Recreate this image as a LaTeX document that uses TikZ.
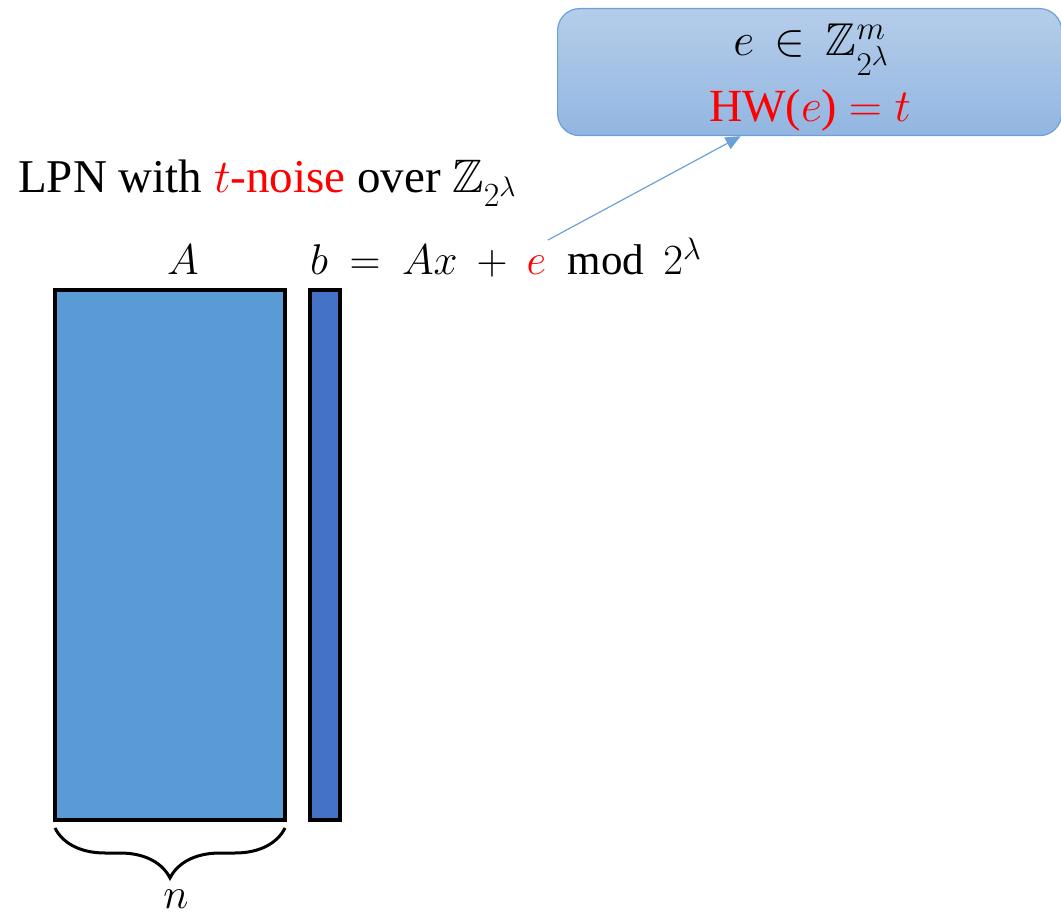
\RequirePackage{fix-cm}
\documentclass[tikz,border=0pt]{standalone}
\usepackage{amssymb}
\usepackage{fontspec}
\setmainfont{Liberation Serif}
\usetikzlibrary{positioning,arrows.meta,decorations.pathreplacing}
\definecolor{boxtop}{RGB}{181,205,234}
\definecolor{boxbot}{RGB}{146,182,225}
\definecolor{boxline}{RGB}{108,160,214}
\definecolor{matfill}{HTML}{5B9BD5}
\definecolor{vecfill}{HTML}{4472C4}
\renewcommand\defaultscriptratio{.72}
\renewcommand\defaultscriptscriptratio{.6}
\newcommand\txtbig{\fontsize{47}{54}\selectfont}
\newcommand\txtmath{\fontsize{43}{52}\selectfont}
\newcommand\txtbox{\fontsize{46}{56}\selectfont}
\tikzset{
  block/.style={draw=black,line width=4pt},
  noisebox/.style={draw=boxline,line width=1.2pt,rounded corners=22pt,top color=boxtop,bottom color=boxbot},
  pointer/.style={draw=boxline,line width=1.2pt,-{Triangle[length=15pt,width=13pt]}},
  label/.style={inner sep=0pt,font=\txtmath}
}
\begin{document}
\begin{tikzpicture}[x=1pt,y=-1pt]
        \useasboundingbox(0,0)rectangle(1061,917);
        \coordinate(A1)at(55,290);
        \coordinate(A2)at(285,820);
        \coordinate(B1)at(310,290);
        \coordinate(B2)at(340,820);
        \draw[block,fill=matfill](A1)rectangle(A2);
        \draw[block,fill=vecfill](B1)rectangle(B2);
        % noise box
        \node[noisebox,minimum width=504pt,minimum height=127pt,anchor=north west](noise)at(557,8){};
        \node[label,font=\txtbox,anchor=base](noiseset)at(811,56){$e\,\in\,\mathbb{Z}_{2^\lambda}^m$};
        \node[label,font=\txtbox,anchor=base,text=red](noiseweight)at(810,122){HW($e$) $=t$};
        % labels
        \node[label,font=\txtbig,anchor=base west](title)at(18,193){LPN with \textcolor{red}{$t$-noise} over $\mathbb{Z}_{2^\lambda}$};
        \node[label,anchor=base](lblA)at(183,275){$A$};
        \node[label,anchor=base west](lblb)at(310,275){$b\:=\:Ax\:+\:\textcolor{red}{e}\:\bmod\,2^\lambda$};
        \coordinate(etail)at(548,240);
        \draw[pointer](etail)--([xshift=-69pt]noise.south);
        % brace
        \draw[line width=3pt,decorate,decoration={brace,mirror,amplitude=50pt}]([yshift=-8pt]A1|-A2)--([yshift=-8pt]A2)coordinate(bend);
        \node[label,anchor=base](lbln)at(176,908){$n$};
\end{tikzpicture}
\end{document}
